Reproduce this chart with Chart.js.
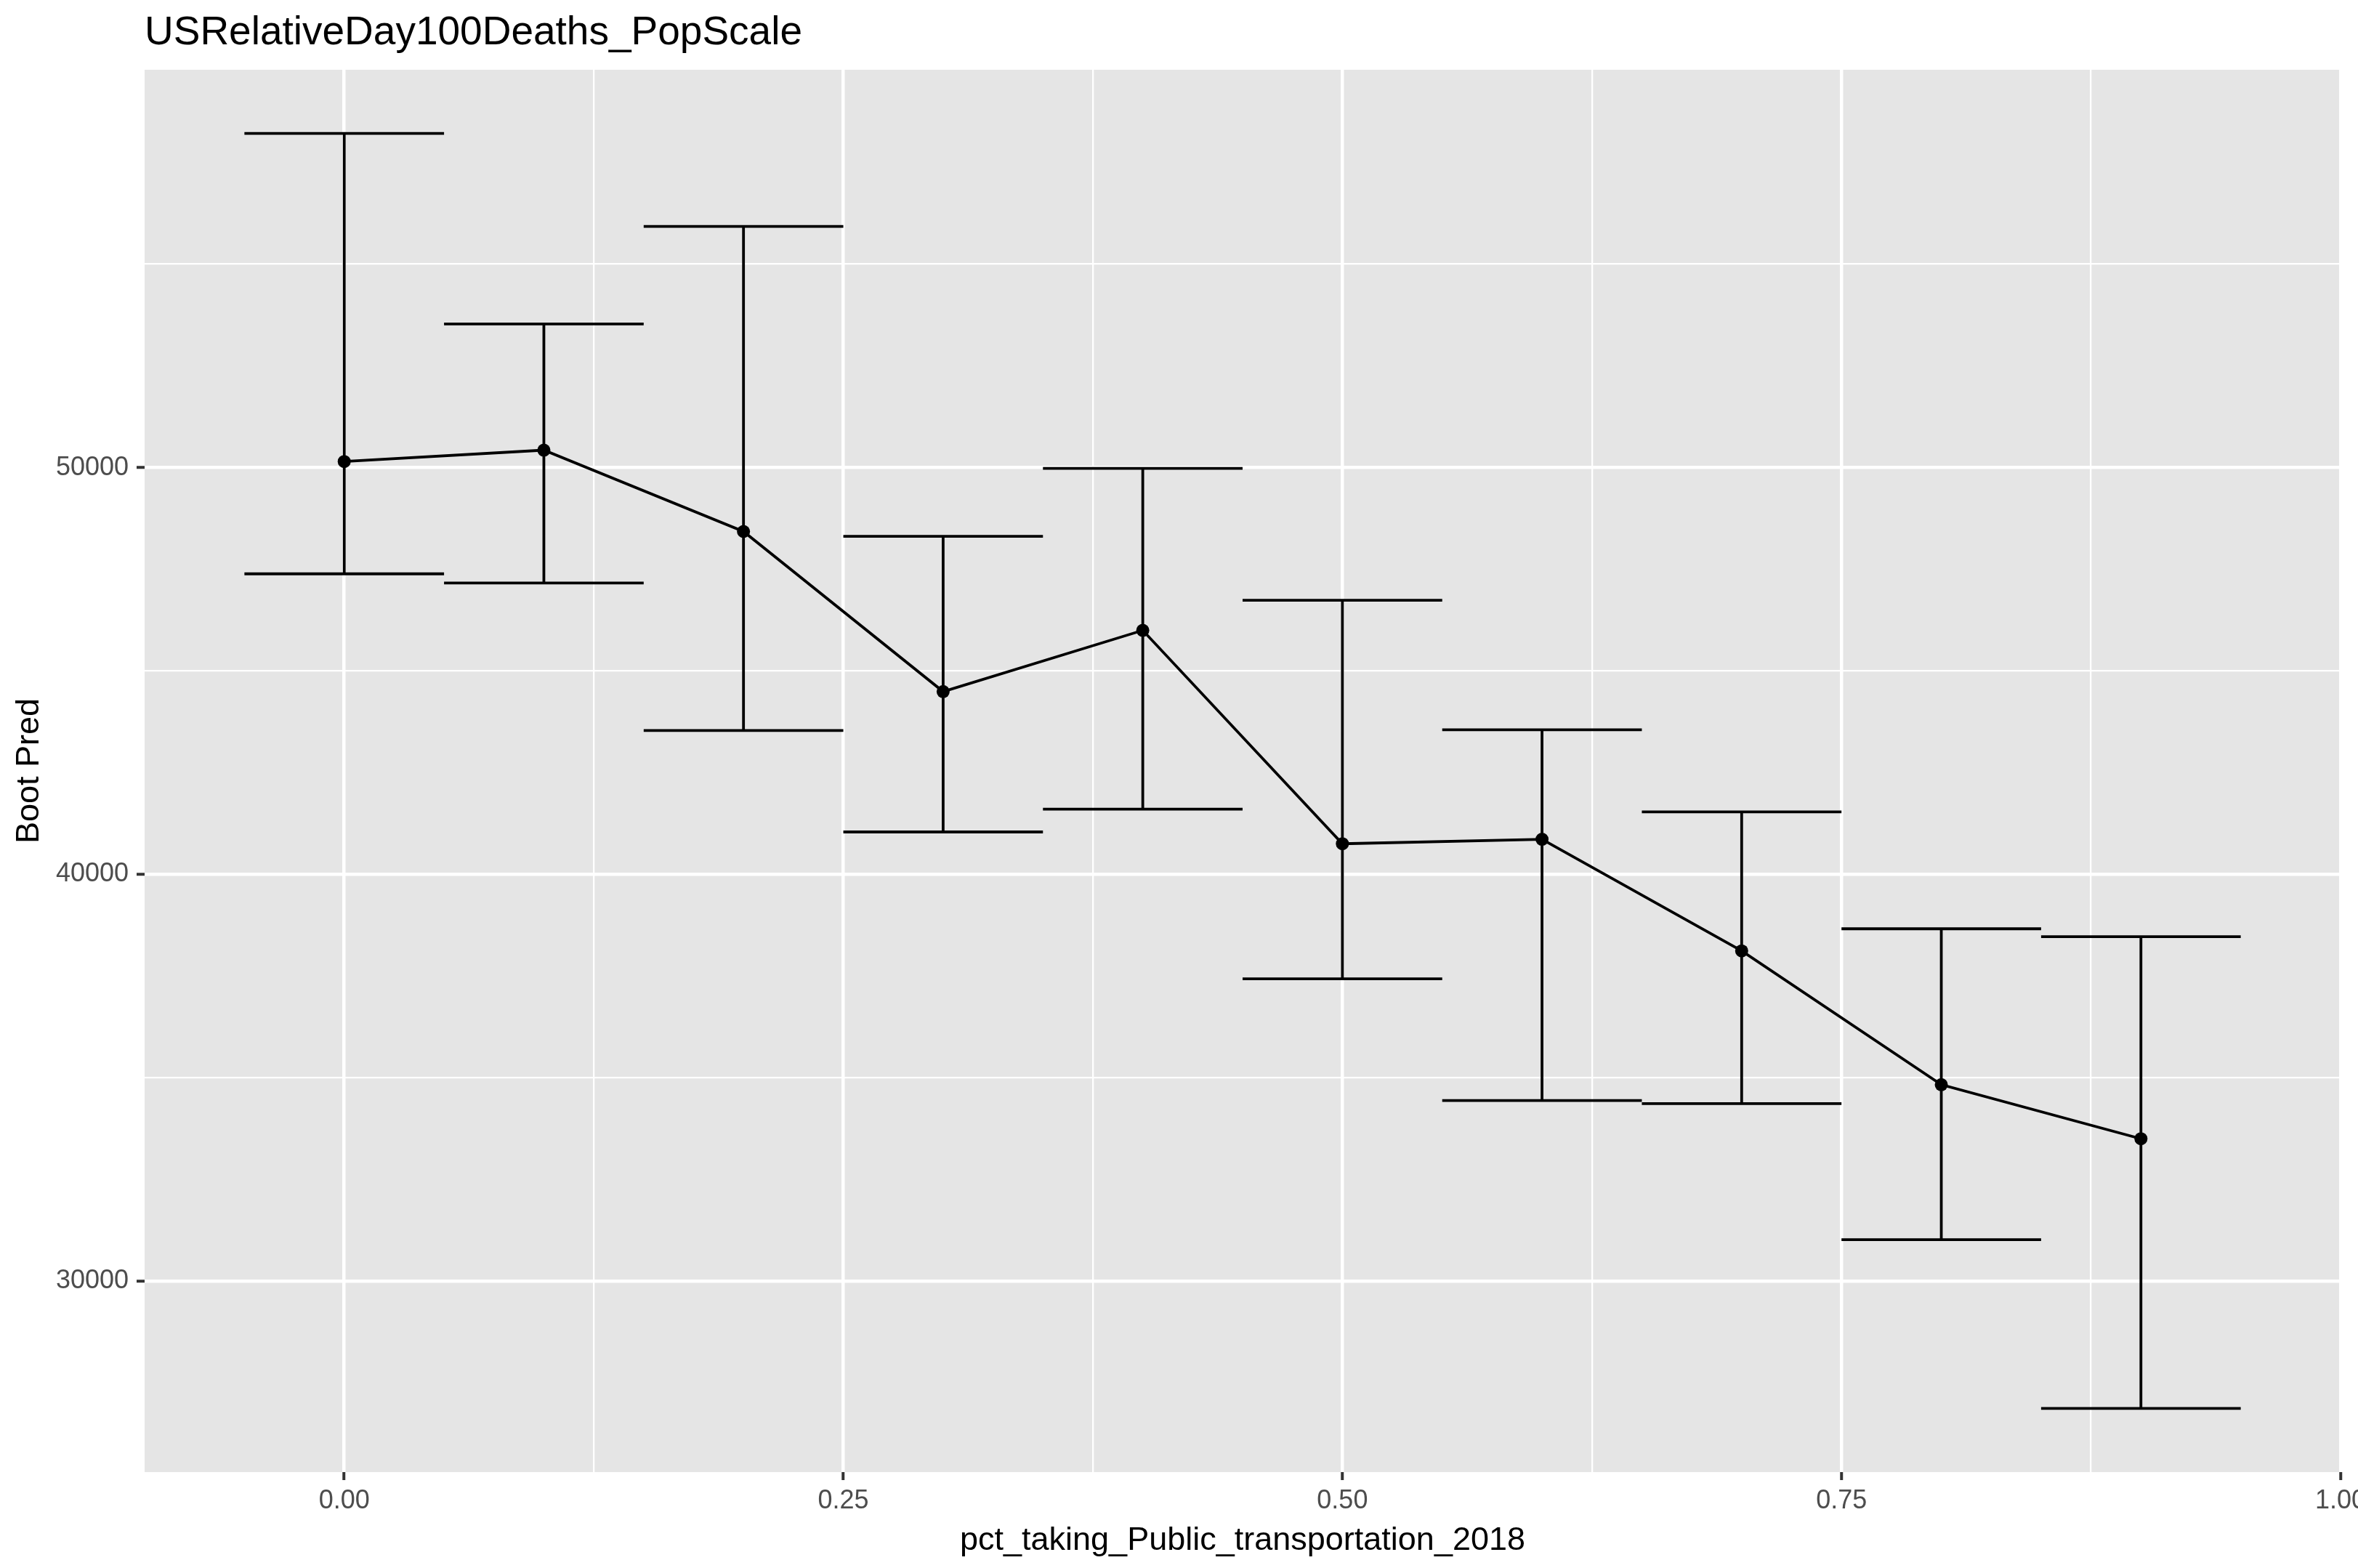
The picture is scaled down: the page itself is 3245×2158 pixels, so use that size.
<!DOCTYPE html>
<html>
<head>
<meta charset="utf-8">
<script src="https://cdn.jsdelivr.net/npm/chart.js@4.4.1/dist/chart.umd.min.js"></script>
<style>
  html, body { margin: 0; padding: 0; background: #ffffff; }
  #wrap { width: 3245px; height: 2158px; }
  canvas { display: block; }
</style>
</head>
<body>
<div id="wrap"><canvas id="c" width="3245" height="2158"></canvas></div>
<script>
// ---- data ----
const xValues   = [0.0, 0.1, 0.2, 0.3, 0.4, 0.5, 0.6, 0.7, 0.8, 0.9];
const bootPred  = [50150, 50430, 48430, 44495, 46000, 40755, 40864, 38121, 34832, 33504];
const lowerCI   = [47390, 47165, 43540, 41045, 41605, 37435, 34443, 34367, 31022, 26875];
const upperCI   = [58214, 53530, 55930, 48310, 49980, 46740, 43556, 41538, 38665, 38470];

const xMajorTicks  = [0, 0.25, 0.5, 0.75, 1.0];
const xMajorLabels = ['0.00', '0.25', '0.50', '0.75', '1.00'];
const xMinorTicks  = [0.125, 0.375, 0.625, 0.875];
const yMajorTicks  = [30000, 40000, 50000];
const yMajorLabels = ['30000', '40000', '50000'];
const yMinorTicks  = [35000, 45000, 55000];

const chartTitle = 'USRelativeDay100Deaths_PopScale';
const xTitle = 'pct_taking_Public_transportation_2018';
const yTitle = 'Boot Pred';

// ---- derived datasets ----
const errWidth = 0.05; // half width of error bar caps (data units)
const lineData = xValues.map((x, i) => ({ x: x, y: bootPred[i] }));
const errData = [];
xValues.forEach((x, i) => {
  errData.push({ x: x, y: lowerCI[i] }, { x: x, y: upperCI[i] }, { x: x, y: null });
  errData.push({ x: x - errWidth, y: upperCI[i] }, { x: x + errWidth, y: upperCI[i] }, { x: x, y: null });
  errData.push({ x: x - errWidth, y: lowerCI[i] }, { x: x + errWidth, y: lowerCI[i] }, { x: x, y: null });
});

const FONT = '"Liberation Sans", Arial, Helvetica, sans-serif';
const yMin = 25310, yMax = 59780;

const isMajor = (arr, v) => arr.some(a => Math.abs(a - v) < 1e-9);

const bgPlugin = {
  id: 'panelBg',
  beforeDraw(chart) {
    const { ctx, chartArea: a } = chart;
    ctx.save();
    ctx.fillStyle = '#ffffff';
    ctx.fillRect(0, 0, chart.width, chart.height);
    ctx.fillStyle = '#E5E5E5';
    ctx.fillRect(a.left, a.top, a.right - a.left, a.bottom - a.top);
    ctx.restore();
  },
  afterDraw(chart) {
    const { ctx, chartArea: a } = chart;
    ctx.save();
    ctx.fillStyle = '#000000';
    ctx.font = '55px ' + FONT;
    ctx.textAlign = 'left';
    ctx.textBaseline = 'alphabetic';
    ctx.fillText(chartTitle, a.left, 61);
    ctx.restore();
  }
};

new Chart(document.getElementById('c'), {
  type: 'scatter',
  data: {
    datasets: [
      {
        label: 'Boot Pred',
        data: lineData,
        showLine: true,
        borderColor: '#000000',
        backgroundColor: '#000000',
        borderWidth: 3.8,
        pointRadius: 9,
        pointBorderWidth: 0,
        pointBackgroundColor: '#000000',
        tension: 0
      },
      {
        label: 'CI',
        data: errData,
        showLine: true,
        spanGaps: false,
        borderColor: '#000000',
        borderWidth: 3.8,
        pointRadius: 0,
        borderCapStyle: 'butt'
      }
    ]
  },
  options: {
    responsive: false,
    devicePixelRatio: 1,
    animation: false,
    events: [],
    layout: { padding: { top: 96, right: 24, left: 0, bottom: 0 } },
    plugins: { legend: { display: false }, tooltip: { enabled: false }, title: { display: false } },
    scales: {
      x: {
        type: 'linear',
        position: 'bottom',
        min: -0.1,
        max: 1.0,
        afterBuildTicks: s => { s.ticks = xMajorTicks.concat(xMinorTicks).sort((a, b) => a - b).map(v => ({ value: v })); },
        afterFit: s => { s.height = 132; s.paddingLeft = 0; s.paddingRight = 0; },
        border: { display: false },
        grid: {
          color: '#ffffff',
          lineWidth: c => isMajor(xMajorTicks, c.tick.value) ? 4.5 : 2.3,
          drawTicks: true,
          tickLength: 11,
          tickWidth: 4,
          tickColor: c => isMajor(xMajorTicks, c.tick.value) ? '#333333' : 'rgba(0,0,0,0)'
        },
        ticks: {
          autoSkip: false,
          maxRotation: 0,
          padding: 7,
          color: '#4D4D4D',
          font: { family: FONT, size: 36 },
          callback: v => { const i = xMajorTicks.findIndex(a => Math.abs(a - v) < 1e-9); return i >= 0 ? xMajorLabels[i] : ''; }
        },
        title: { display: true, text: xTitle, color: '#000000', font: { family: FONT, size: 45 }, padding: { top: 0, bottom: 10 } }
      },
      y: {
        type: 'linear',
        position: 'left',
        min: yMin,
        max: yMax,
        afterBuildTicks: s => { s.ticks = yMajorTicks.concat(yMinorTicks).sort((a, b) => a - b).map(v => ({ value: v })); },
        afterFit: s => { s.width = 199; s.paddingTop = 0; s.paddingBottom = 0; },
        border: { display: false },
        grid: {
          color: '#ffffff',
          lineWidth: c => isMajor(yMajorTicks, c.tick.value) ? 4.5 : 2.3,
          drawTicks: true,
          tickLength: 11,
          tickWidth: 4,
          tickColor: c => isMajor(yMajorTicks, c.tick.value) ? '#333333' : 'rgba(0,0,0,0)'
        },
        ticks: {
          autoSkip: false,
          padding: 11,
          color: '#4D4D4D',
          font: { family: FONT, size: 36 },
          callback: v => { const i = yMajorTicks.findIndex(a => Math.abs(a - v) < 1e-9); return i >= 0 ? yMajorLabels[i] : ''; }
        },
        title: { display: true, text: yTitle, color: '#000000', font: { family: FONT, size: 45 }, padding: { top: 14, bottom: 0 } }
      }
    }
  },
  plugins: [bgPlugin]
});
</script>
</body>
</html>
